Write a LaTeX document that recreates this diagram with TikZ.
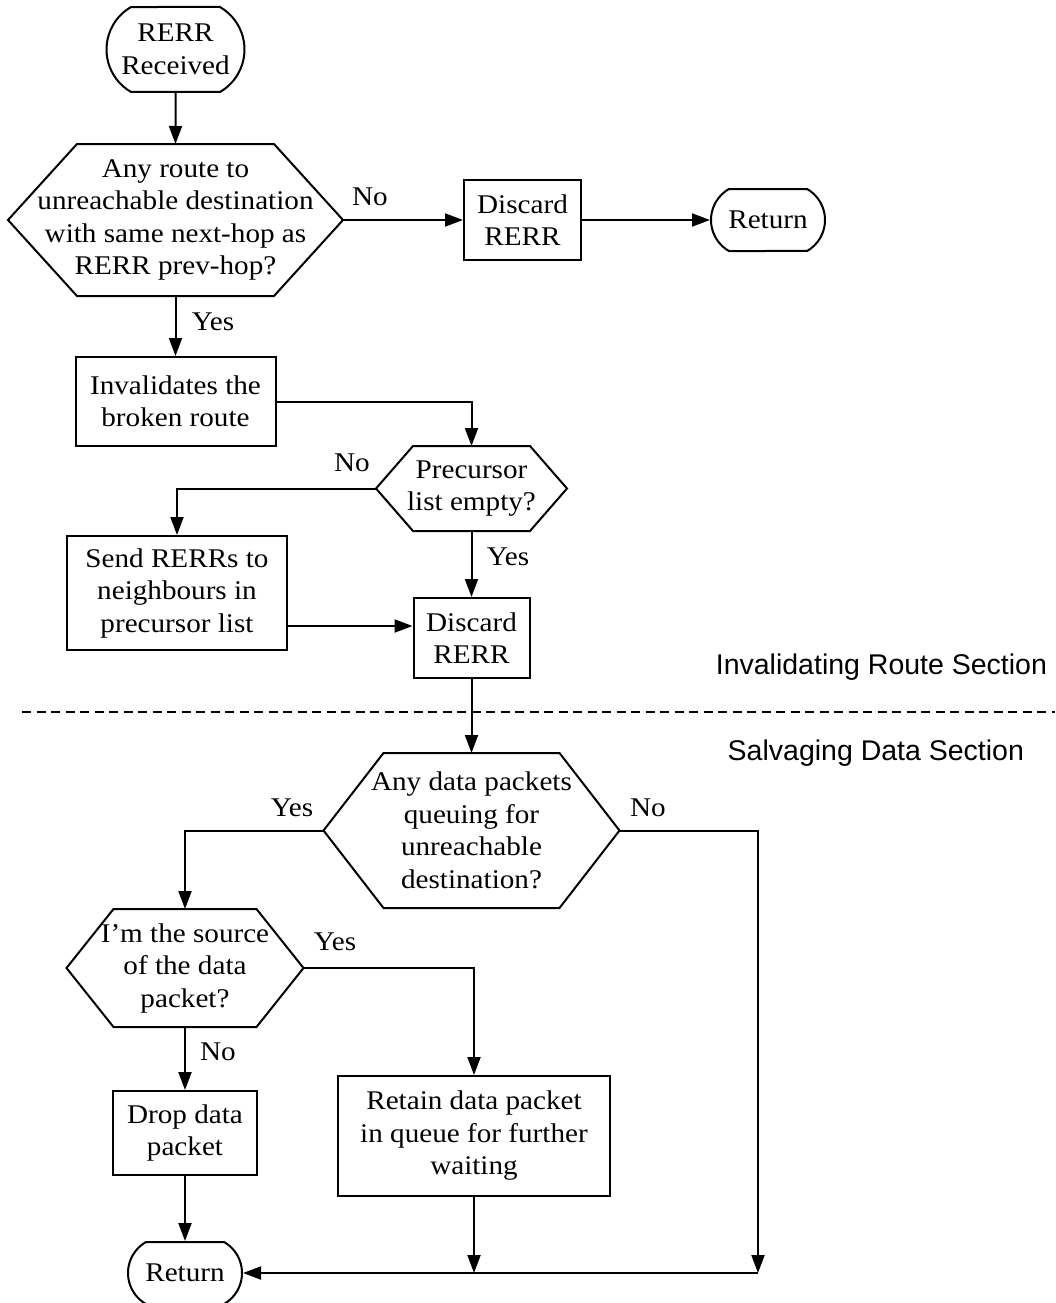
\documentclass[tikz,border=0pt]{standalone}
\usepackage{fontspec}
\setmainfont{Liberation Serif}[FakeStretch=1.08]
\newfontfamily\secfont{Liberation Sans}
\usetikzlibrary{arrows.meta,shapes.misc}

% hexagonal decision outline around a (borderless) node: #1 node name, #2 chamfer width
\newcommand\hexoutline[2]{%
  \draw[line join=miter] ([xshift=#2]#1.north west) -- ([xshift=-#2]#1.north east) -- (#1.east)
    -- ([xshift=-#2]#1.south east) -- ([xshift=#2]#1.south west) -- (#1.west) -- cycle;}

\begin{document}
\begin{tikzpicture}[x=1pt, y=-1pt, line width=2pt,
  every node/.style={font=\fontsize{27}{32.5}\selectfont, align=center, inner sep=0pt},
  box/.style={draw, rectangle},
  term/.style={draw, rounded rectangle, rounded rectangle arc length=120},
  hexa/.style={rectangle, outer sep=0pt},
  arr/.style={-{Triangle[length=18pt,width=13pt]}},
  seclabel/.style={font=\secfont\fontsize{28.5}{34}\selectfont, anchor=east},
  divider/.style={dash pattern=on 9pt off 5.5pt, line width=1.5pt}]

\useasboundingbox (0,0) rectangle (1055,1303);

% ---- invalidating route section ----
\node[term, minimum width=138pt, minimum height=85pt] (start) at (175.5,49.5) {RERR\\Received};
\node[hexa, minimum width=335pt, minimum height=152pt] (h1) at (175.5,220)
  {Any route to\\unreachable destination\\with same next-hop as\\RERR prev-hop?};
\hexoutline{h1}{69pt}
\node[box, minimum width=117pt, minimum height=80pt] (d1) at (522.5,220) {Discard\\RERR};
\node[term, minimum width=114pt, minimum height=62pt] (r1) at (768,220) {Return};
\node[box, minimum width=200pt, minimum height=89pt] (inv) at (175.5,401.5) {Invalidates the\\broken route};
\node[hexa, minimum width=191pt, minimum height=85pt] (h2) at (471.5,488.5) {Precursor\\list empty?};
\hexoutline{h2}{37pt}
\node[box, minimum width=220pt, minimum height=114pt] (send) at (177,593)
  {Send RERRs to\\neighbours in\\precursor list};
\node[box, minimum width=116pt, minimum height=80pt] (d2) at (471.5,638) {Discard\\RERR};

\draw[arr] (start) -- (h1);
\draw[arr] (h1.east) -- (d1.west);
\draw[arr] (d1.east) -- (r1.west);
\draw[arr] (h1.south) -- (inv.north);
\draw[arr] (inv.east) -| (h2.north);
\draw[arr] (h2.west) -| (send.north);
\draw[arr] (h2.south) -- (d2.north);
\draw[arr] ([yshift=-33pt]send.east) -- ([yshift=12pt]d2.west);

\node (l1) at (370,197) {No};
\node (l2) at (213,322) {Yes};
\node (l3) at (352,463) {No};
\node (l4) at (508,557) {Yes};

% ---- section divider ----
\node[seclabel] (sec1) at (1048,667) {Invalidating Route Section};
\coordinate (dl) at (22,712);
\coordinate (dr) at (1055,712);
\draw[divider] (dl) -- (dr);
\node[seclabel] (sec2) at (1025,753) {Salvaging Data Section};

% ---- salvaging data section ----
\node[hexa, minimum width=296pt, minimum height=155pt] (h3) at (471.5,830.5)
  {Any data packets\\queuing for\\unreachable\\destination?};
\hexoutline{h3}{60pt}
\node[hexa, minimum width=237pt, minimum height=118pt] (h4) at (185,968)
  {I'm the source\\of the data\\packet?};
\hexoutline{h4}{47pt}
\node[box, minimum width=144pt, minimum height=84pt] (drop) at (185,1133) {Drop data\\packet};
\node[box, minimum width=272pt, minimum height=120pt] (retain) at (474,1136)
  {Retain data packet\\in queue for further\\waiting};
\node[term, minimum width=114pt, minimum height=62pt] (r2) at (185,1273) {Return};
\coordinate (cr) at (758,1273);

\draw[arr] (d2.south) -- (h3.north);
\draw[arr] (h3.west) -| (h4.north);
\draw[arr] (h3.east) -| (cr);
\draw[arr] (h4.east) -| (retain.north);
\draw[arr] (h4.south) -- (drop.north);
\draw[arr] (drop.south) -- (r2.north);
\draw[arr] (retain.south) -- (retain.south |- cr);
\draw[arr] (cr) -- (r2.east);

\node (l5) at (292,808) {Yes};
\node (l6) at (648,808) {No};
\node (l7) at (335,942) {Yes};
\node (l8) at (218,1052) {No};
\end{tikzpicture}
\end{document}
